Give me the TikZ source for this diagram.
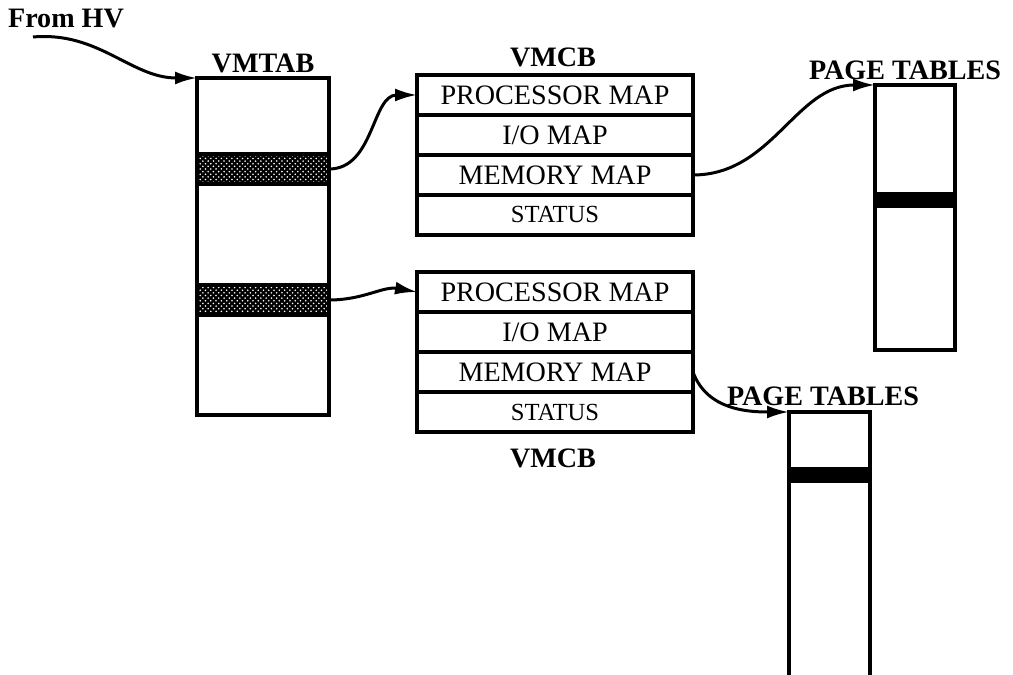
\documentclass[tikz,border=0pt]{standalone}
\usepackage{fontspec}
\setmainfont{Liberation Serif}
\usetikzlibrary{arrows.meta,patterns,positioning}
\tikzstyle{row}=[draw, line width=1.8pt, outer sep=0pt, inner sep=0pt, minimum width=5.52cm, minimum height=0.8cm, font=\fontsize{16}{18}\selectfont]
\tikzstyle{slot}=[draw, line width=1.8pt, outer sep=0pt, inner sep=0pt, minimum width=2.64cm, minimum height=0.6cm, preaction={fill=black}, pattern=crosshatch dots, pattern color=white]
\tikzstyle{entry}=[fill=black, outer sep=0pt, inner sep=0pt, minimum width=1.6cm, minimum height=0.32cm]
\tikzstyle{title}=[font=\bfseries\fontsize{16}{18}\selectfont]
\tikzstyle{link}=[line width=1.7pt, -{Latex[length=4.4mm,width=2.6mm]}]

\begin{document}
\begin{tikzpicture}[x=0.02cm, y=-0.02cm]
\useasboundingbox (0,0) rectangle (1013,675);

\node[title] (hv) at (66,19) {From HV};
\coordinate (hvtail) at (33,37);

% VMTAB
\node[draw, line width=1.8pt, outer sep=0pt, minimum width=2.64cm, minimum height=6.74cm, anchor=north west] (vmtab) at (197,78) {};
\node[title] (vmtablbl) at (263,63) {VMTAB};
\node[slot] (slot1) at (263,169) {};
\node[slot] (slot2) at (263,300) {};

% first VMCB
\node[title] (vmcb1) at (553,57) {VMCB};
\node[row] (pm1) at (555,95) {PROCESSOR MAP};
\node[row, below=0pt of pm1] (io1) {I/O MAP};
\node[row, below=0pt of io1] (mm1) {MEMORY MAP};
\node[row, below=0pt of mm1, font=\fontsize{14}{16}\selectfont] (st1) {STATUS};

% second VMCB
\node[row] (pm2) at (555,292) {PROCESSOR MAP};
\node[row, below=0pt of pm2] (io2) {I/O MAP};
\node[row, below=0pt of io2] (mm2) {MEMORY MAP};
\node[row, below=0pt of mm2, font=\fontsize{14}{16}\selectfont] (st2) {STATUS};
\node[title] (vmcb2) at (553,458) {VMCB};

% page tables
\node[title] (ptlbl1) at (905,70) {PAGE TABLES};
\node[draw, line width=1.8pt, outer sep=0pt, minimum width=1.6cm, minimum height=5.3cm, anchor=north west] (pt1) at (875,85) {};
\node[entry] (pte1) at (915,200) {};

\node[title] (ptlbl2) at (823,396) {PAGE TABLES};
\coordinate (pt2) at (789,412);
\draw[line width=1.8pt] (789,690) -- (pt2) -- (870,412) -- (870,690);
\node[entry] (pte2) at (829.5,475) {};

% pointers
\draw[link] (hvtail) to[out=5,in=180] (vmtab.north west);
\draw[link] (slot1.east) to[out=0,in=180] (pm1.west);
\draw[link] (slot2.east) to[out=0,in=170] (pm2.west);
\draw[link] (mm1.east) to[out=0,in=180] (pt1.north west);
\draw[link] (mm2.east) to[out=-70,in=180] (pt2);
\end{tikzpicture}
\end{document}
